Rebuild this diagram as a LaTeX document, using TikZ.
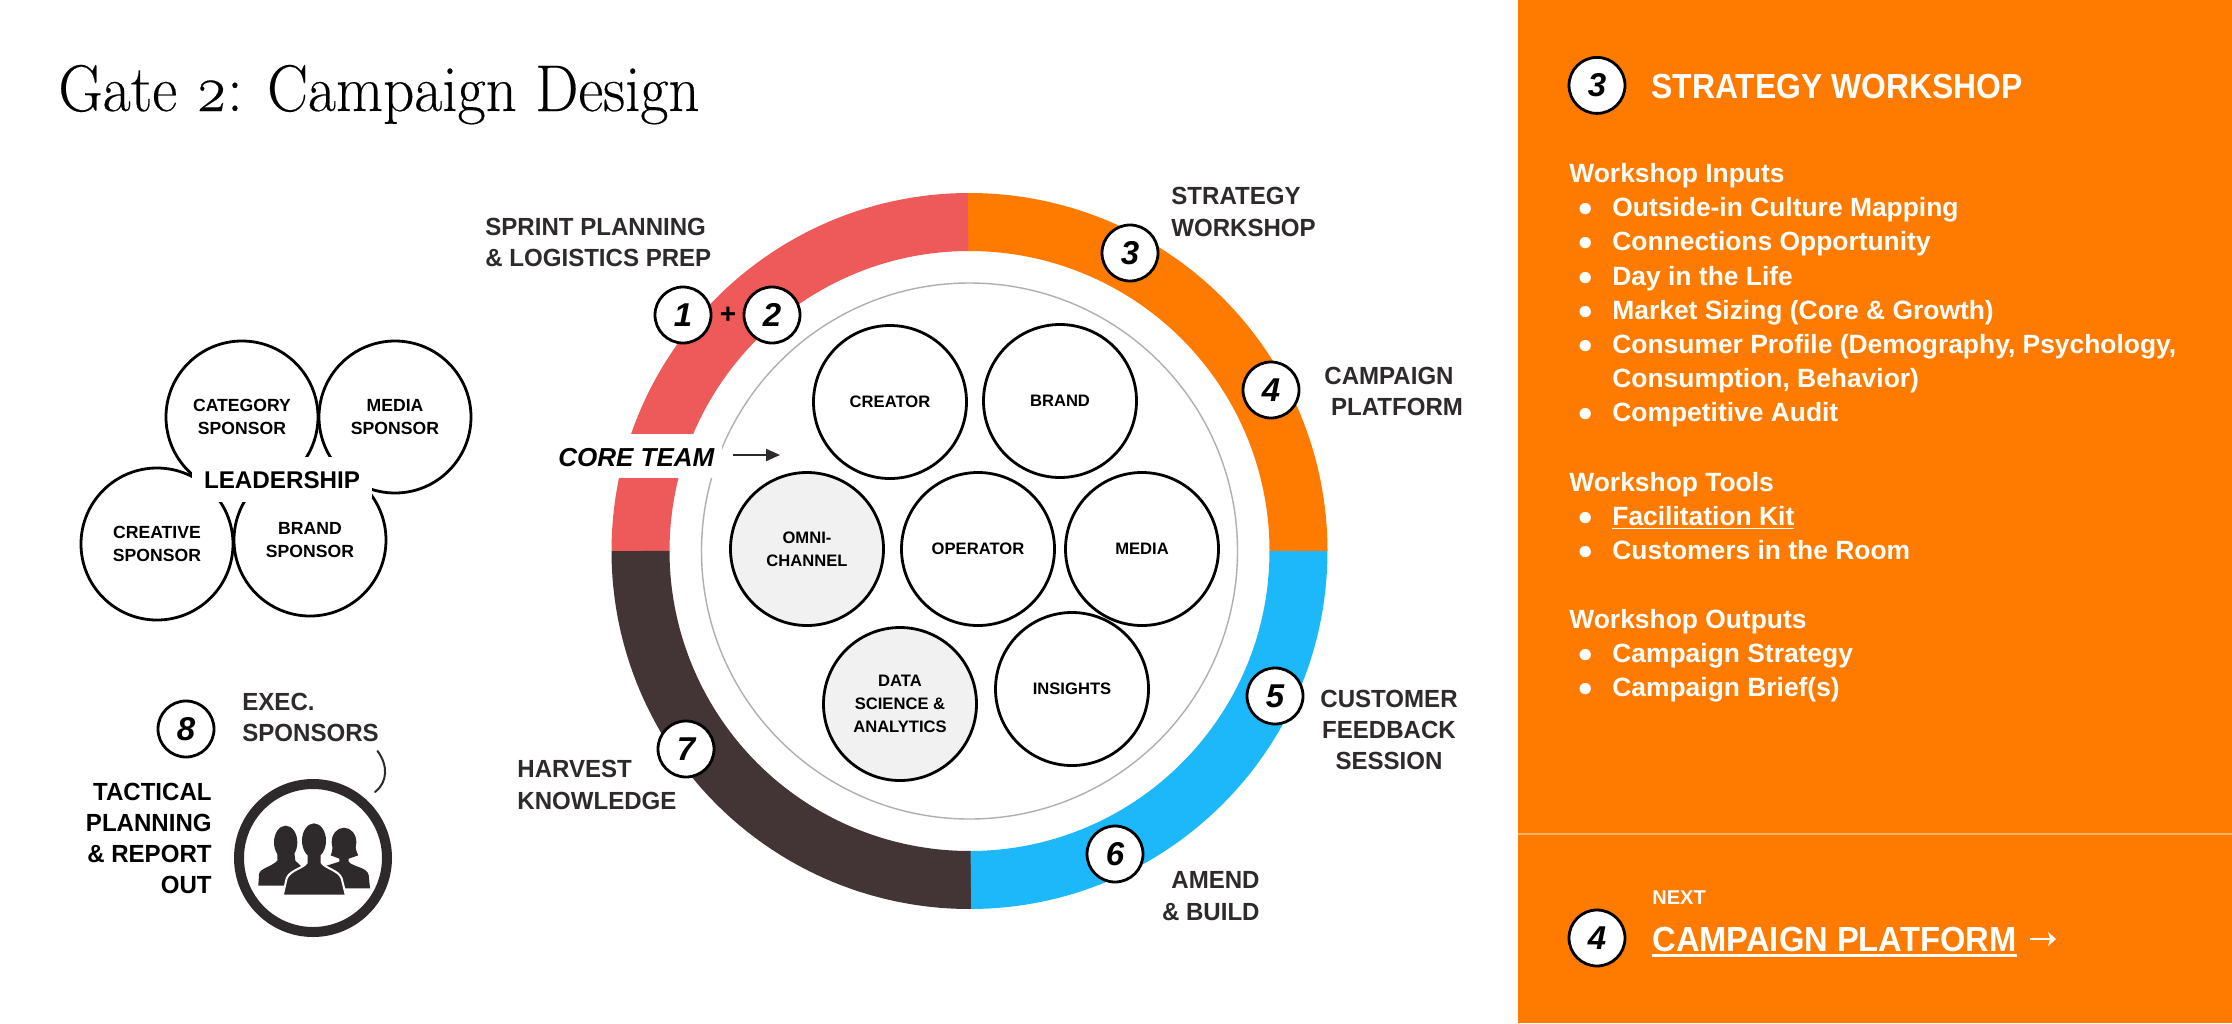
\documentclass[tikz,border=0pt]{standalone}
\usepackage{fontspec}
\setmainfont{Liberation Sans}
\newfontfamily\titlefont[Numbers=OldStyle,FakeStretch=0.925,FakeBold=0.25]{Latin Modern Roman}
\newfontfamily\heada[FakeStretch=0.915]{Liberation Sans}
\newfontfamily\headb[FakeStretch=0.94]{Liberation Sans}
\newfontfamily\labelfont[FakeStretch=0.97]{Liberation Sans}
\usetikzlibrary{arrows.meta}
\definecolor{orangeC}{HTML}{FF7B00}
\definecolor{redC}{HTML}{EE5959}
\definecolor{blueC}{HTML}{1DB8F9}
\definecolor{brownC}{HTML}{433535}
\definecolor{darkC}{HTML}{2E2A2B}
\definecolor{greyC}{HTML}{AFAFAF}
\definecolor{fillC}{HTML}{F1F1F1}
\definecolor{ruleC}{HTML}{FFB26B}
\tikzset{
  seg/.style={line width=29pt},
  numc/.style={circle,draw=black,fill=white,line width=1.4pt,minimum size=28pt,inner sep=0pt,text=black,font=\bfseries\itshape\fontsize{16.5}{16.5}\selectfont},
  team/.style={circle,draw=black,fill=white,line width=1.4pt,minimum size=76.5pt,inner sep=0pt,align=center,text=black,font=\bfseries\fontsize{8.3}{11.4}\selectfont},
  shaded/.style={team,fill=fillC},
  spons/.style={circle,draw=black,line width=1.4pt,minimum size=76pt,inner sep=0pt,align=center,text=black,font=\bfseries\fontsize{8.8}{11.7}\selectfont},
  lbl/.style={inner sep=0pt,align=center,text=darkC,font=\labelfont\bfseries\fontsize{12.4}{15.6}\selectfont},
  panel/.style={inner sep=0pt,align=left,text=white,font=\bfseries\fontsize{13.2}{17.1}\selectfont,anchor=north west},
}
\newcommand{\bul}{\makebox[21.5pt][l]{\hspace{4pt}●}}
\begin{document}
\begin{tikzpicture}[x=0.5pt,y=0.5pt]
\useasboundingbox (0,0) rectangle (2232,-1023);
\fill[white] (0,0) rectangle (1518,-1023);
\fill[orangeC] (1518,0) rectangle (2232,-1023);
\draw[ruleC,line width=0.7pt] (1518,-834) -- (2232,-834);

\node[anchor=base west,inner sep=0pt,text=black,font=\titlefont\fontsize{33}{33}\selectfont] (title) at (58,-111) {Gate 2: Campaign Design};

% ring
\draw[seg,orangeC] (1298.5,-551) arc (0:90.25:329);
\draw[seg,redC] (968.1,-222) arc (90.25:180:329);
\draw[seg,brownC] (640.5,-551) arc (180:270.25:329);
\draw[seg,blueC] (970.9,-880) arc (270.25:360:329);
\draw[greyC,line width=0.7pt] (969.5,-551) circle (268);
\fill[white] (560,-434) rectangle (722,-478);

% team
\node[team] (creator) at (890,-402) {CREATOR};
\node[team] (brand) at (1060,-401) {BRAND};
\node[shaded] (omni) at (807,-549) {OMNI-\\CHANNEL};
\node[team] (operator) at (978,-549) {OPERATOR};
\node[team] (media) at (1142,-549) {MEDIA};
\node[shaded] (data) at (900,-704) {DATA\\SCIENCE \&\\ANALYTICS};
\node[team] (insights) at (1072,-689) {INSIGHTS};

\node[anchor=base west,inner sep=0pt,text=black,font=\bfseries\itshape\fontsize{13}{13}\selectfont] (core) at (558,-466) {CORE TEAM};
\coordinate (arrowstart) at (733,-455);
\coordinate (arrowend) at (780,-455);
\draw[darkC,line width=1pt,-{Triangle[length=7pt,width=6pt]}] (arrowstart) -- (arrowend);

% numbers
\node[numc] (n1) at (683,-315) {1};
\node[numc] (n2) at (772,-315) {2};
\node[inner sep=0pt,text=black,font=\bfseries\fontsize{14}{14}\selectfont] (plus) at (728,-315) {+};
\node[numc] (n3) at (1130,-253) {3};
\node[numc] (n4) at (1271,-390) {4};
\node[numc] (n5) at (1275,-696) {5};
\node[numc] (n6) at (1115,-854) {6};
\node[numc] (n7) at (686,-749) {7};
\node[numc] (n8) at (186,-729) {8};

% ring labels
\node[lbl,align=left,anchor=west] (sprint) at (485,-242.5) {SPRINT PLANNING\\\& LOGISTICS PREP};
\node[lbl,align=left,anchor=west] (strat) at (1171,-212) {STRATEGY\\WORKSHOP};
\node[lbl] (camp) at (1389,-391.5) {CAMPAIGN\\\hspace*{8pt}PLATFORM};
\node[lbl] (cust) at (1389,-730) {CUSTOMER\\FEEDBACK\\SESSION};
\node[lbl,align=right,anchor=east] (amend) at (1260,-896) {AMEND\\\& BUILD};
\node[lbl,align=left,anchor=west] (harvest) at (517,-785) {HARVEST\\KNOWLEDGE};

% leadership
\node[spons] (cat) at (242,-417) {CATEGORY\\SPONSOR};
\node[spons] (med) at (395,-417) {MEDIA\\SPONSOR};
\node[spons] (cre) at (157,-544) {CREATIVE\\SPONSOR};
\node[spons] (bra) at (310,-540) {BRAND\\SPONSOR};
\fill[white] (192,-457) rectangle (372,-502);
\node[anchor=base,inner sep=0pt,text=black,font=\bfseries\fontsize{12.1}{12.1}\selectfont] (lead) at (282,-488) {LEADERSHIP};

% exec
\node[lbl,text=black,align=right,anchor=east] (tact) at (212,-838.5) {TACTICAL\\PLANNING\\\& REPORT\\OUT};
\node[lbl,align=left,anchor=west] (exec) at (242,-717.5) {EXEC.\\SPONSORS};
\node[circle,draw=darkC,line width=5pt,minimum size=74pt,inner sep=0pt] (people) at (313,-858) {};
\coordinate (tickA) at (377.5,-751);
\coordinate (tickB) at (375,-792);
\draw[darkC,line width=1pt,line cap=round] (tickA) .. controls (388,-765) and (388,-782) .. (tickB);

\begin{scope}[shift={(60,-670)},x=0.16667pt,y=-0.16667pt]
  \fill[darkC] (677,517) ellipse (35 and 50);
  \fill[darkC] (652,540) -- (702,540) -- (706,572) -- (725,590) -- (725,647) -- (595,647) -- (597,612) .. controls (600,595) and (635,590) .. (652,572) -- cycle;
  \fill[darkC] (852,516) ellipse (37 and 43);
  \fill[darkC] (818,520) .. controls (818,540) and (815,550) .. (812,556) -- (838,566) -- (838,575) -- (790,590) -- (790,655) -- (930,655) -- (926,615) .. controls (920,590) and (880,592) .. (866,575) -- (866,566) -- (895,556) .. controls (888,545) and (886,530) .. (886,520) -- cycle;
  \fill[darkC,draw=white,line width=1pt] (668,677) -- (680,625) .. controls (690,600) and (730,595) .. (740,578) -- (740,550) -- (785,550) -- (785,578) .. controls (795,595) and (835,600) .. (845,625) -- (858,677) -- cycle;
  \fill[darkC] (762,512) ellipse (36 and 52);
\end{scope}

% right panel
\node[numc] (hn) at (1597,-85.4) {3};
\node[anchor=base west,inner sep=0pt,text=white,font=\heada\bfseries\fontsize{17.4}{17.4}\selectfont] (head) at (1651,-98) {STRATEGY WORKSHOP};
\node[panel] (inputs) at (1569,-163) {Workshop Inputs\\
\bul Outside-in Culture Mapping\\
\bul Connections Opportunity\\
\bul Day in the Life\\
\bul Market Sizing (Core \& Growth)\\
\bul Consumer Profile (Demography, Psychology,\\
\hspace*{21.5pt}Consumption, Behavior)\\
\bul Competitive Audit};
\node[panel] (tools) at (1569,-472) {Workshop Tools\\
\bul \underline{Facilitation Kit}\\
\bul Customers in the Room};
\node[panel] (outputs) at (1569,-609) {Workshop Outputs\\
\bul Campaign Strategy\\
\bul Campaign Brief(s)};

\node[numc] (fn) at (1597,-938) {4};
\node[anchor=base west,inner sep=0pt,text=white,font=\bfseries\fontsize{10}{10}\selectfont] (next) at (1652,-904) {NEXT};
\node[anchor=base west,inner sep=0pt,text=white,font=\headb\bfseries\fontsize{17.4}{17.4}\selectfont,text depth=0pt] (cp) at (1652,-951) {CAMPAIGN PLATFORM};
\draw[white,line width=1.5pt] ([yshift=-2pt]cp.south west) -- ([yshift=-2pt]cp.south east);
\coordinate (as) at (2030,-939);
\coordinate (ae) at (2056,-939);
\draw[white,line width=1.1pt,-{Stealth[length=4pt,width=7pt,inset=1pt]}] (as) -- (ae);
\end{tikzpicture}
\end{document}
